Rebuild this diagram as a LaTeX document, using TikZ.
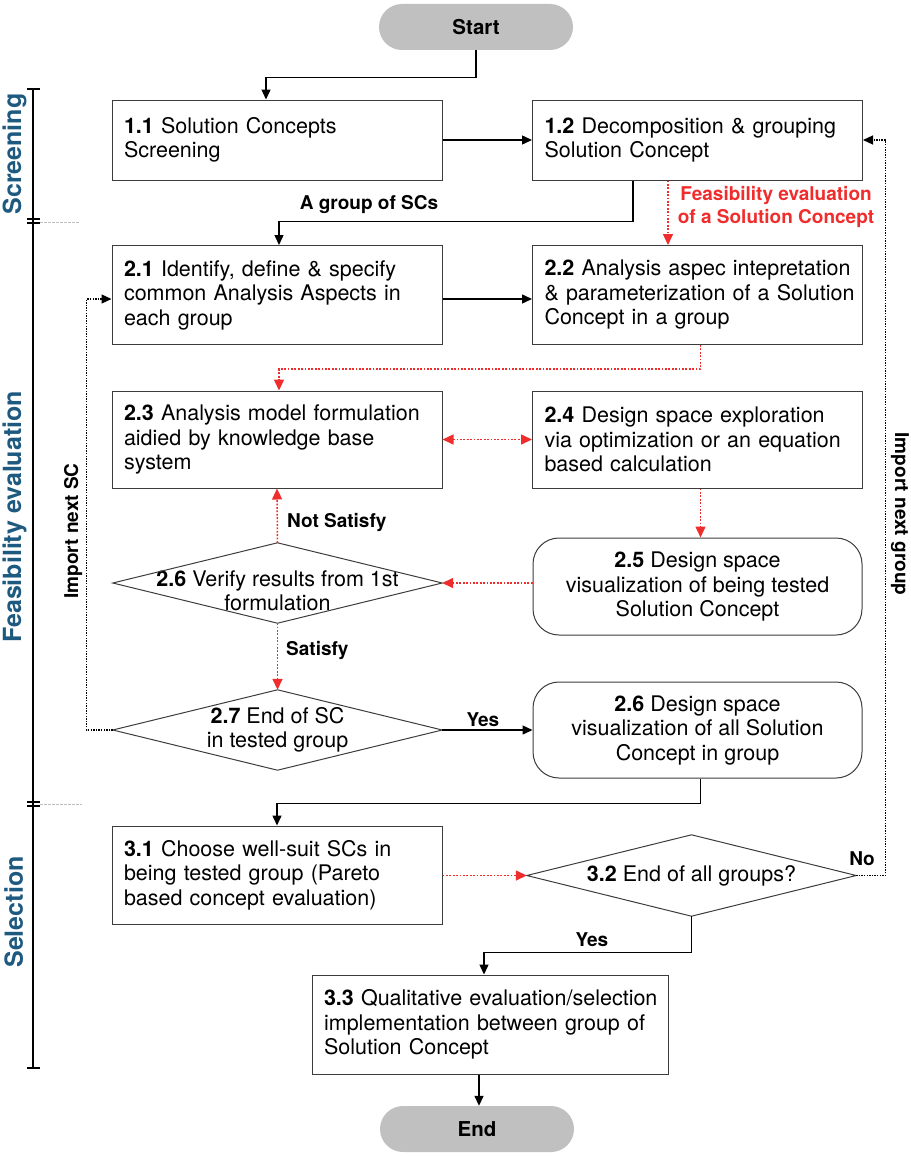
\documentclass[tikz,border=0pt]{standalone}
\usepackage{fontspec}
\setmainfont{TeX Gyre Heros}
\usetikzlibrary{arrows.meta,calc}
\definecolor{phase}{RGB}{30,90,128}
\definecolor{redd}{RGB}{240,45,45}
\definecolor{pill}{RGB}{192,192,192}
\definecolor{edge}{RGB}{60,60,60}
\newcommand\myBody{\fontsize{21.5}{24.5}\selectfont}
\newcommand\myLab{\fontsize{19}{23}\selectfont\bfseries}
\newcommand\myPhase{\fontsize{25}{28}\selectfont\bfseries}
\hbadness=10000 \hfuzz=50pt
\begin{document}
\begin{tikzpicture}[x=1pt,y=-1pt,
  box/.style={draw=edge, line width=1pt, text width=306pt, inner xsep=12pt, inner ysep=0pt, align=left, font=\myBody},
  rbox/.style={draw=edge, line width=1pt, rounded corners=26pt, minimum width=329pt, inner sep=0pt, align=center, font=\myBody},
  pillnode/.style={fill=pill, rounded corners=23pt, minimum width=194pt, minimum height=46pt, inner sep=0pt, font=\fontsize{20.5}{24}\selectfont\bfseries},
  dia/.style={minimum width=329pt, minimum height=80pt, inner sep=0pt},
  diatext/.style={align=center, font=\myBody, inner sep=0pt},
  tip/.style={-{Triangle[length=10pt,width=9pt]}},
  rtip/.style={-{Triangle[length=11pt,width=10pt]}},
  arr/.style={tip, line width=1.4pt, black},
  rarr/.style={rtip, line width=1.5pt, redd, dash pattern=on 1.8pt off 1.6pt},
  rarrb/.style={{Triangle[length=11pt,width=10pt]}-{Triangle[length=11pt,width=10pt]}, line width=1.5pt, redd, dash pattern=on 1.8pt off 1.6pt},
  darr/.style={tip, line width=1.2pt, black, dash pattern=on 1.4pt off 1.2pt},
  lab/.style={font=\myLab, inner sep=0pt},
  phaselab/.style={font=\myPhase, text=phase, rotate=90, anchor=base, inner sep=0pt},
]
\useasboundingbox (0,0) rectangle (910,1156);

% phase bar
\draw[line width=1.4pt] (33,89) -- (33,1068);
\draw[line width=1.4pt] (27,89) -- (40,89);
\draw[line width=1.2pt] (27,219) -- (40,219) (27,223) -- (40,223);
\draw[line width=1.2pt] (27,802) -- (40,802) (27,806) -- (40,806);
\draw[line width=1.4pt] (27,1068) -- (40,1068);
\draw[gray!50, line width=0.8pt, dash pattern=on 3pt off 1pt] (40,222) -- (80,222);
\draw[gray!50, line width=0.8pt, dash pattern=on 3pt off 1pt] (40,804) -- (82,804);
\node[phaselab] (ph1) at (21,154) {Screening};
\node[phaselab] (ph2) at (21,517) {Feasibility evaluation};
\node[phaselab] (ph3) at (23,912) {Selection};

% nodes
\node[pillnode] (start) at (476,27) {Start};
\node[box, minimum height=80pt] (b11) at (277,140) {\textbf{1.1} Solution Concepts\\Screening};
\node[box, minimum height=80pt] (b12) at (697.5,140) {\mbox{\textbf{1.2} Decomposition \& grouping}\\Solution Concept};
\node[box, minimum height=99pt] (b21) at (277,295) {\mbox{\textbf{2.1} Identify, define \& specify}\\\mbox{common Analysis Aspects in}\\each group};
\node[box, minimum height=99pt] (b22) at (697.5,295) {\mbox{\textbf{2.2} Analysis aspec intepretation}\\\mbox{\& parameterization of a Solution}\\\mbox{Concept in a group}};
\node[box, minimum height=97pt] (b23) at (277,439.5) {\mbox{\textbf{2.3} Analysis model formulation}\\\mbox{aidied by knowledge base}\\system};
\node[box, minimum height=97pt] (b24) at (697.5,439.5) {\mbox{\textbf{2.4} Design space exploration}\\\mbox{via optimization or an equation}\\\mbox{based calculation}};
\node[rbox, minimum height=97pt] (b25) at (697.5,586.5) {\textbf{2.5} Design space\\visualization of being tested\\Solution Concept};
\node[dia] (d26) at (277.5,583) {};
\node[diatext] (d26t) at (277.5,591) {\textbf{2.6} Verify results from 1st\\formulation};
\node[dia] (d27) at (277.5,730) {};
\node[diatext] (d27t) at (277.5,730) {\textbf{2.7} End of SC\\in tested group};
\node[rbox, minimum height=96pt] (b26b) at (697.5,730) {\textbf{2.6} Design space\\visualization of all Solution\\Concept in group};
\node[box, minimum height=98pt] (b31) at (277,875) {\mbox{\textbf{3.1} Choose well-suit SCs in}\\\mbox{being tested group (Pareto}\\\mbox{based concept evaluation)}};
\node[dia, minimum height=81pt] (d32) at (691.5,875.5) {};
\node[diatext] (d32t) at (691.5,876) {\textbf{3.2} End of all groups?};
\node[box, text width=332pt, minimum height=99pt] (b33) at (490,1024.5) {\mbox{\textbf{3.3} Qualitative evaluation/selection}\\\mbox{implementation between group of}\\\mbox{Solution Concept}};
\node[pillnode] (end) at (477,1129) {End};

% diamond outlines
\foreach \d in {d26,d27,d32}
  \draw[edge, line width=1pt] (\d.north) -- (\d.east) -- (\d.south) -- (\d.west) -- cycle;

% connectors
\draw[arr] (start.south) -- ++(0,27) -| ($(b11.north)+(-11,0)$);
\draw[arr] (b11.east) -- (b12.west);
\draw[arr] ($(b12.south)+(-64.5,0)$) -- ++(0,41) -| ($(b21.north)+(2,0)$);
\draw[rarr] ($(b12.south)+(-29.5,0)$) -- ($(b22.north)+(-29.5,0)$);
\draw[arr] ($(b21.east)+(0,4)$) -- ($(b22.west)+(0,4)$);
\draw[rarr] ($(b22.south)+(3,0)$) -- ++(0,24) -| ($(b23.north)+(2,0)$);
\draw[rarrb] (b23.east) -- (b24.west);
\draw[rarr] ($(b24.south)+(3,0)$) -- ($(b25.north)+(3,0)$);
\draw[rarr] (b25.west |- d26.east) -- (d26.east);
\draw[rarr] (d26.north) -- (b23.south);
\draw[rarr] (d26.south) -- (d27.north);
\draw[arr] (d27.east) -- (b26b.west |- d27.east);
\draw[darr] (d27.west) -- ++(-26,0) |- ($(b21.west)+(0,4)$);
\draw[arr] ($(b26b.south)+(3,0)$) -- ++(0,25) -| (b31.north);
\draw[rarr] (b31.east |- d32.west) -- (d32.west);
\draw[darr] (d32.east) -- ++(29,0) |- (b12.east);
\draw[arr] (d32.south) -- ++(0,36) -| ($(b33.north)+(-6,0)$);
\draw[arr] ($(b33.south)+(-11,0)$) -- ($(end.north)+(2,0)$);

% labels
\node[lab] (lgrp) at (369,205) {A group of SCs};
\node[lab, text=redd, align=center] (lfeas) at (776,207) {Feasibility evaluation\\of a Solution Concept};
\node[lab, anchor=west] (lns) at (287,522) {Not Satisfy};
\node[lab, anchor=west] (lsat) at (286,650) {Satisfy};
\node[lab] (lyes1) at (483,720) {Yes};
\node[lab] (lno) at (862,859) {No};
\node[lab] (lyes2) at (592,940) {Yes};
\node[lab, rotate=90, anchor=base] (limp1) at (78,531) {Import next SC};
\node[lab, rotate=-90, anchor=base] (limp2) at (895,514) {Import next group};
\end{tikzpicture}
\end{document}
